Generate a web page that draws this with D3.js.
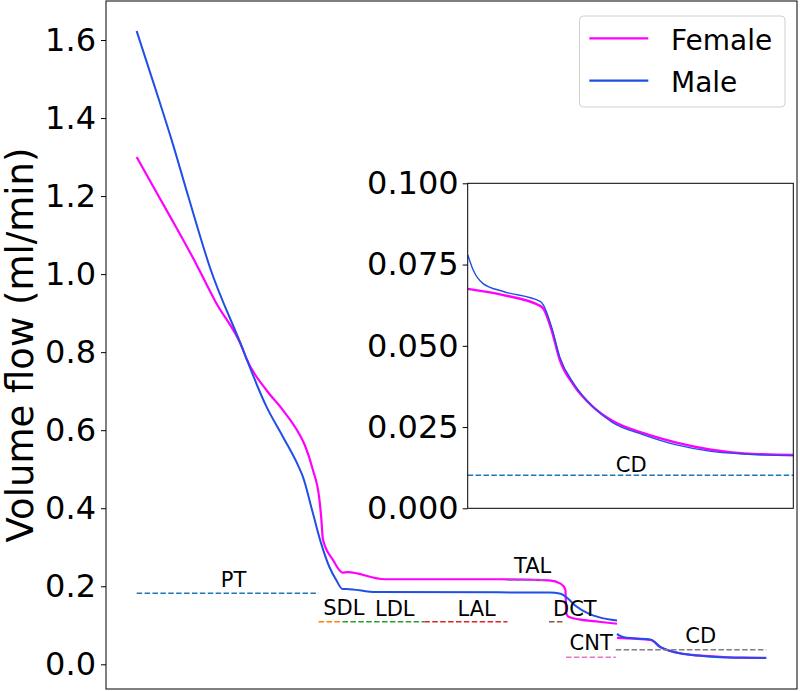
<!DOCTYPE html>
<html>
<head>
<meta charset="utf-8">
<script src="https://cdn.jsdelivr.net/npm/d3@7"></script>
<style>
  html, body { margin: 0; padding: 0; background: #fff; }
  svg { display: block; font-family: "DejaVu Sans", sans-serif; }
</style>
</head>
<body>
<svg id="chart" width="800" height="691"></svg>
<script>
// ---- Data (position along nephron, arbitrary units 0..100) ----
const femaleUpperX = [0, 2.6, 5.3, 9.0, 12.5, 16.9, 17.4, 20.6, 23.2, 25.8, 26.7, 28.0, 29.0, 29.3, 29.6, 31.2, 32.7, 33.5, 39.4, 57.6, 65.5, 67.4, 68.1, 68.25, 68.7, 70.3, 73.4, 76.3];
const femaleUpperY = [1.300, 1.225, 1.148, 1.040, 0.930, 0.806, 0.785, 0.703, 0.652, 0.591, 0.562, 0.498, 0.426, 0.379, 0.319, 0.267, 0.235, 0.236, 0.218, 0.218, 0.215, 0.206, 0.191, 0.130, 0.121, 0.115, 0.109, 0.104];
const maleUpperX = [0, 3.2, 5.55, 8.2, 11.6, 16.9, 17.4, 20.6, 23.2, 25.6, 26.4, 28.0, 29.3, 30.6, 31.7, 32.7, 33.3, 38.0, 65.5, 67.35, 68.4, 69.7, 71.8, 73.4, 76.3];
const maleUpperY = [1.623, 1.464, 1.344, 1.199, 1.019, 0.806, 0.785, 0.661, 0.584, 0.511, 0.481, 0.387, 0.310, 0.250, 0.216, 0.193, 0.193, 0.185, 0.184, 0.181, 0.170, 0.150, 0.130, 0.121, 0.112];
// connecting tubule + collecting duct
const femaleDistalX = [76.3, 78.9, 81.6, 81.8, 82.4, 83.0, 84.0, 85.4, 86.8, 89.1, 91.5, 93.9, 96.4, 100];
const femaleDistalY = [0.0675, 0.0656, 0.0622, 0.0615, 0.0549, 0.0457, 0.0380, 0.0313, 0.0270, 0.0231, 0.0202, 0.0181, 0.0169, 0.0164];
const maleDistalX = [76.3, 76.7, 77.4, 78.9, 81.6, 81.8, 82.4, 83.0, 84.0, 85.4, 86.8, 89.1, 91.5, 93.9, 96.4, 100];
const maleDistalY = [0.0780, 0.0733, 0.0692, 0.0667, 0.0636, 0.0626, 0.0559, 0.0466, 0.0385, 0.0313, 0.0265, 0.0226, 0.0195, 0.0176, 0.0167, 0.0162];

// segment markers
const segNames  = ["PT", "SDL", "LDL", "LAL", "TAL", "DCT", "CNT", "CD"];
const segStart  = [0, 28.9, 32.7, 45.7, 58.9, 65.5, 68.2, 76.1];
const segEnd    = [28.9, 32.7, 45.7, 58.9, 65.0, 68.0, 76.1, 100];
const segLevel  = [0.182, 0.109, 0.109, 0.109, 0.216, 0.109, 0.018, 0.037];
const segColors = ["#1f77b4", "#ff7f0e", "#2ca02c", "#d62728", "#9467bd", "#8c564b", "#e377c2", "#7f7f7f"];
const labelX    = [15.4, 32.9, 41.0, 54.0, 62.9, 69.6, 72.2, 89.6];
const labelY    = [0.197, 0.126, 0.124, 0.124, 0.233, 0.124, 0.037, 0.054];

// inset CD marker
const insetSegLevel = 0.0102;
const insetLabelX = 88.2, insetLabelY = 0.01126;

const mainYTicks = [0.0, 0.2, 0.4, 0.6, 0.8, 1.0, 1.2, 1.4, 1.6];
const insetYTicks = [0.000, 0.025, 0.050, 0.075, 0.100];
const seriesNames = ["Female", "Male"];
const seriesColors = ["#ff00ff", "#1f4fe6"];

// ---- Drawing ----
const svg = d3.select("#chart");
const M = { left: 106, right: 797, top: 1, bottom: 689 };
const x = d3.scaleLinear().domain([-4.87, 104.89]).range([M.left, M.right]);
const y = d3.scaleLinear().domain([-0.0633, 1.700]).range([M.bottom, M.top]);

const zip = (xs, ys) => xs.map((v, i) => [v, ys[i]]);
const lineMain = d3.line().x(d => x(d[0])).y(d => y(d[1])).curve(d3.curveMonotoneX);

svg.append("defs").append("clipPath").attr("id", "mainclip")
  .append("rect").attr("x", M.left).attr("y", M.top)
  .attr("width", M.right - M.left).attr("height", M.bottom - M.top);

const plot = svg.append("g").attr("clip-path", "url(#mainclip)");

const femaleSegs = [zip(femaleUpperX, femaleUpperY), zip(femaleDistalX, femaleDistalY)];
const maleSegs = [zip(maleUpperX, maleUpperY), zip(maleDistalX, maleDistalY)];

femaleSegs.forEach(s => plot.append("path").attr("d", lineMain(s))
  .attr("fill", "none").attr("stroke", seriesColors[0]).attr("stroke-width", 2.2));
maleSegs.forEach(s => plot.append("path").attr("d", lineMain(s))
  .attr("fill", "none").attr("stroke", seriesColors[1]).attr("stroke-width", 2));

// segment dashed lines + labels
segNames.forEach((n, i) => {
  plot.append("line")
    .attr("x1", x(segStart[i])).attr("x2", x(segEnd[i]))
    .attr("y1", y(segLevel[i])).attr("y2", y(segLevel[i]))
    .attr("stroke", segColors[i]).attr("stroke-width", 1.5)
    .attr("stroke-dasharray", "5.5,2.4");
  svg.append("text").attr("x", x(labelX[i])).attr("y", y(labelY[i]))
    .attr("text-anchor", "middle").attr("font-size", 21).attr("fill", "#000").text(n);
});

// main axis
const yAxis = d3.axisLeft(y).tickValues(mainYTicks).tickFormat(d3.format(".1f")).tickSize(5).tickPadding(5);
const ya = svg.append("g").attr("transform", `translate(${M.left},0)`).call(yAxis);
ya.select(".domain").remove();
ya.selectAll("text").attr("font-size", 32).attr("font-family", "DejaVu Sans").attr("fill", "#000");
ya.selectAll("line").attr("stroke", "#000");

svg.append("rect").attr("x", M.left).attr("y", M.top)
  .attr("width", M.right - M.left).attr("height", M.bottom - M.top)
  .attr("fill", "none").attr("stroke", "#000").attr("stroke-width", 1);

svg.append("text").attr("transform", `translate(33,345) rotate(-90)`)
  .attr("text-anchor", "middle").attr("font-size", 37).attr("fill", "#000")
  .text("Volume flow (ml/min)");

// legend
const lg = svg.append("g");
lg.append("rect").attr("x", 579.5).attr("y", 16).attr("width", 205.5).attr("height", 91)
  .attr("rx", 4).attr("fill", "#fff").attr("fill-opacity", 0.8).attr("stroke", "#d0d0d0");
seriesNames.forEach((n, i) => {
  const yy = 38.3 + i * 42.4;
  lg.append("line").attr("x1", 589.3).attr("x2", 648.3).attr("y1", yy).attr("y2", yy)
    .attr("stroke", seriesColors[i]).attr("stroke-width", 2.2);
  lg.append("text").attr("x", 671).attr("y", yy + 11.5).attr("font-size", 28).attr("fill", "#000").text(n);
});

// ---- inset ----
const I = { left: 467.7, right: 793.3, top: 183.3, bottom: 508.3 };
const xi = d3.scaleLinear().domain([76.3, 100]).range([I.left, I.right]);
const yi = d3.scaleLinear().domain([0, 0.1]).range([I.bottom, I.top]);
const lineInset = d3.line().x(d => xi(d[0])).y(d => yi(d[1])).curve(d3.curveMonotoneX);

svg.append("rect").attr("x", I.left).attr("y", I.top)
  .attr("width", I.right - I.left).attr("height", I.bottom - I.top).attr("fill", "#fff");
svg.select("defs").append("clipPath").attr("id", "insetclip")
  .append("rect").attr("x", I.left).attr("y", I.top)
  .attr("width", I.right - I.left).attr("height", I.bottom - I.top);
const ip = svg.append("g").attr("clip-path", "url(#insetclip)");
ip.append("path").attr("d", lineInset(zip(femaleDistalX, femaleDistalY)))
  .attr("fill", "none").attr("stroke", seriesColors[0]).attr("stroke-width", 2.4);
ip.append("path").attr("d", lineInset(zip(maleDistalX, maleDistalY)))
  .attr("fill", "none").attr("stroke", seriesColors[1]).attr("stroke-width", 1.4);
ip.append("line").attr("x1", xi(76.3)).attr("x2", xi(100))
  .attr("y1", yi(insetSegLevel)).attr("y2", yi(insetSegLevel))
  .attr("stroke", "#1f77b4").attr("stroke-width", 1.5).attr("stroke-dasharray", "5.5,2.4");
svg.append("text").attr("x", xi(insetLabelX)).attr("y", yi(insetLabelY))
  .attr("text-anchor", "middle").attr("font-size", 21).attr("fill", "#000").text("CD");

const yiAxis = d3.axisLeft(yi).tickValues(insetYTicks).tickFormat(d3.format(".3f")).tickSize(5).tickPadding(4);
const yia = svg.append("g").attr("transform", `translate(${I.left},0)`).call(yiAxis);
yia.select(".domain").remove();
yia.selectAll("text").attr("font-size", 32).attr("font-family", "DejaVu Sans").attr("fill", "#000");
yia.selectAll("line").attr("stroke", "#000");
svg.append("rect").attr("x", I.left).attr("y", I.top)
  .attr("width", I.right - I.left).attr("height", I.bottom - I.top)
  .attr("fill", "none").attr("stroke", "#000").attr("stroke-width", 1);
</script>
</body>
</html>
